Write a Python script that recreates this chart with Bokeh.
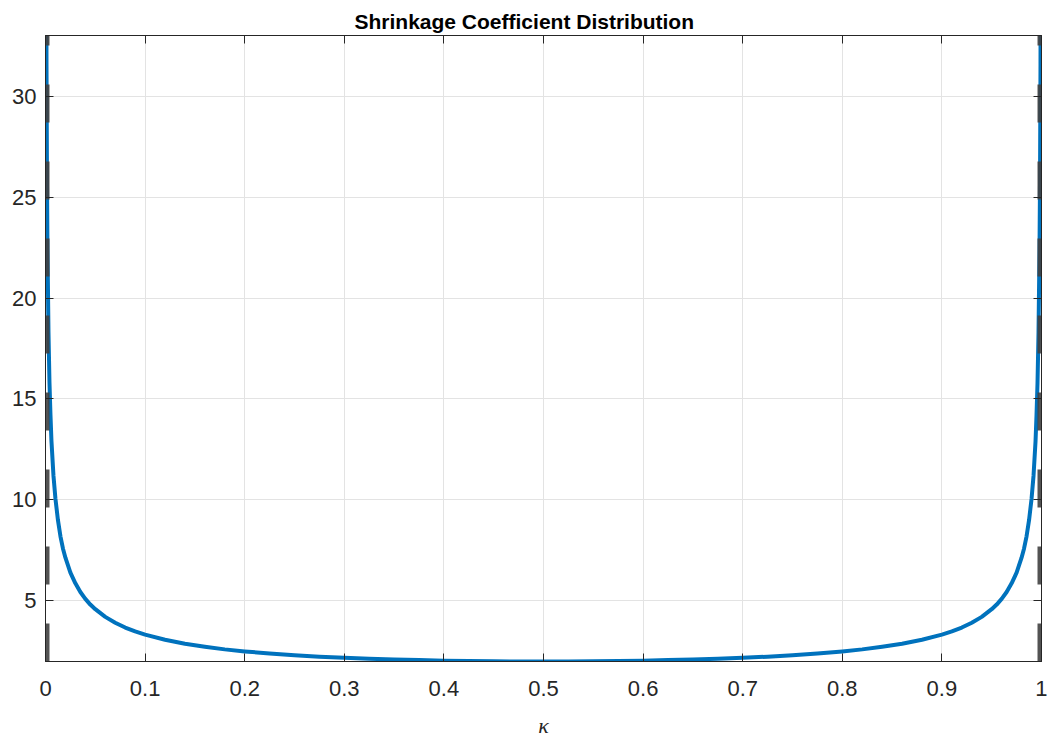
from bokeh.plotting import figure
from bokeh.models import LinearAxis, Range1d, FixedTicker
from bokeh.embed import file_html
from bokeh.resources import INLINE

# Values
kappa = [0.0003, 0.0005, 0.001, 0.0015, 0.002, 0.003, 0.004, 0.005, 0.006, 0.008,
         0.01, 0.0125, 0.015, 0.0175, 0.02, 0.025, 0.03, 0.035, 0.04, 0.045,
         0.05, 0.06, 0.07, 0.08, 0.09, 0.1, 0.12, 0.14, 0.16, 0.18,
         0.2, 0.225, 0.25, 0.275, 0.3, 0.325, 0.35, 0.375, 0.4, 0.425,
         0.45, 0.475, 0.5, 0.525, 0.55, 0.575, 0.6, 0.625, 0.65, 0.675,
         0.7, 0.725, 0.75, 0.775, 0.8, 0.82, 0.84, 0.86, 0.88, 0.9,
         0.91, 0.92, 0.93, 0.94, 0.95, 0.955, 0.96, 0.965, 0.97, 0.975,
         0.98, 0.9825, 0.985, 0.9875, 0.99, 0.992, 0.994, 0.995, 0.996, 0.997,
         0.998, 0.9985, 0.999, 0.9995, 0.9997]
density = [57.7, 44.7, 31.6, 25.8, 22.4, 18.3, 15.8, 14.2, 12.9, 11.2,
           10.05, 9.0, 8.2, 7.6, 7.14, 6.4, 5.87, 5.44, 5.10, 4.82,
           4.59, 4.21, 3.92, 3.68, 3.49, 3.33, 3.08, 2.88, 2.73, 2.60,
           2.50, 2.40, 2.31, 2.24, 2.18, 2.14, 2.10, 2.07, 2.04, 2.02,
           2.01, 2.00, 2.00, 2.00, 2.01, 2.02, 2.04, 2.07, 2.10, 2.14,
           2.18, 2.24, 2.31, 2.40, 2.50, 2.60, 2.73, 2.88, 3.08, 3.33,
           3.49, 3.68, 3.92, 4.21, 4.59, 4.82, 5.10, 5.44, 5.87, 6.4,
           7.14, 7.6, 8.2, 9.0, 10.05, 11.2, 12.9, 14.2, 15.8, 18.3,
           22.4, 25.8, 31.6, 44.7, 57.7]
bound_x = [0.0, 1.0]
bound_y = [2.0, 33.0]
x_ticks = [0, 0.1, 0.2, 0.3, 0.4, 0.5, 0.6, 0.7, 0.8, 0.9, 1]
y_ticks = [5, 10, 15, 20, 25, 30]

TXT = "#262626"
FONT = "Liberation Sans"

p = figure(width=1047, height=740, output_backend="svg", toolbar_location=None,
           x_range=Range1d(0, 1), y_range=Range1d(2, 33),
           title="Shrinkage Coefficient Distribution",
           min_border_left=45, min_border_right=6, min_border_top=35, min_border_bottom=77)
p.title.align = "left"
p.title.offset = 309
p.title.text_font = FONT
p.title.text_font_size = "21px"
p.title.text_font_style = "bold"
p.title.text_color = "#000000"
p.title.standoff = 6

p.outline_line_color = TXT
p.background_fill_color = "white"
p.border_fill_color = "white"

for ax in (p.xaxis[0], p.yaxis[0]):
    ax.axis_line_color = TXT
    ax.major_tick_line_color = TXT
    ax.major_tick_in = 8
    ax.major_tick_out = 0
    ax.minor_tick_line_color = None
    ax.major_label_text_font = FONT
    ax.major_label_text_font_size = "22px"
    ax.major_label_text_color = TXT

p.xaxis.ticker = FixedTicker(ticks=x_ticks)
p.yaxis.ticker = FixedTicker(ticks=y_ticks)
p.xaxis.major_label_overrides = {0: "0", 1: "1"}
p.xaxis.major_label_standoff = 19
p.yaxis.major_label_standoff = 9
p.xaxis.axis_label = "κ"
p.xaxis.axis_label_text_font = "Liberation Serif"
p.xaxis.axis_label_text_font_style = "italic"
p.xaxis.axis_label_text_font_size = "22px"
p.xaxis.axis_label_text_color = TXT
p.xaxis.axis_label_standoff = 14

top = LinearAxis(ticker=FixedTicker(ticks=x_ticks), major_label_text_color=None,
                 major_tick_in=8, major_tick_out=0, minor_tick_line_color=None,
                 axis_line_color=TXT, major_tick_line_color=TXT, major_label_standoff=0)
right = LinearAxis(ticker=FixedTicker(ticks=y_ticks), major_label_text_color=None,
                   major_tick_in=8, major_tick_out=0, minor_tick_line_color=None,
                   axis_line_color=TXT, major_tick_line_color=TXT, major_label_standoff=0)
p.add_layout(top, "above")
p.add_layout(right, "right")

p.xgrid.grid_line_color = "#e3e3e3"
p.ygrid.grid_line_color = "#e3e3e3"
p.xgrid.ticker = FixedTicker(ticks=x_ticks)
p.ygrid.ticker = FixedTicker(ticks=y_ticks)

p.line(kappa, density, line_color="#0072BD", line_width=4, line_join="round")
for bx in bound_x:
    p.line([bx, bx], bound_y, line_color="#404040", line_width=8, line_dash="38 39",
           line_alpha=0.9)

open("out.html", "w").write(file_html(p, INLINE))
